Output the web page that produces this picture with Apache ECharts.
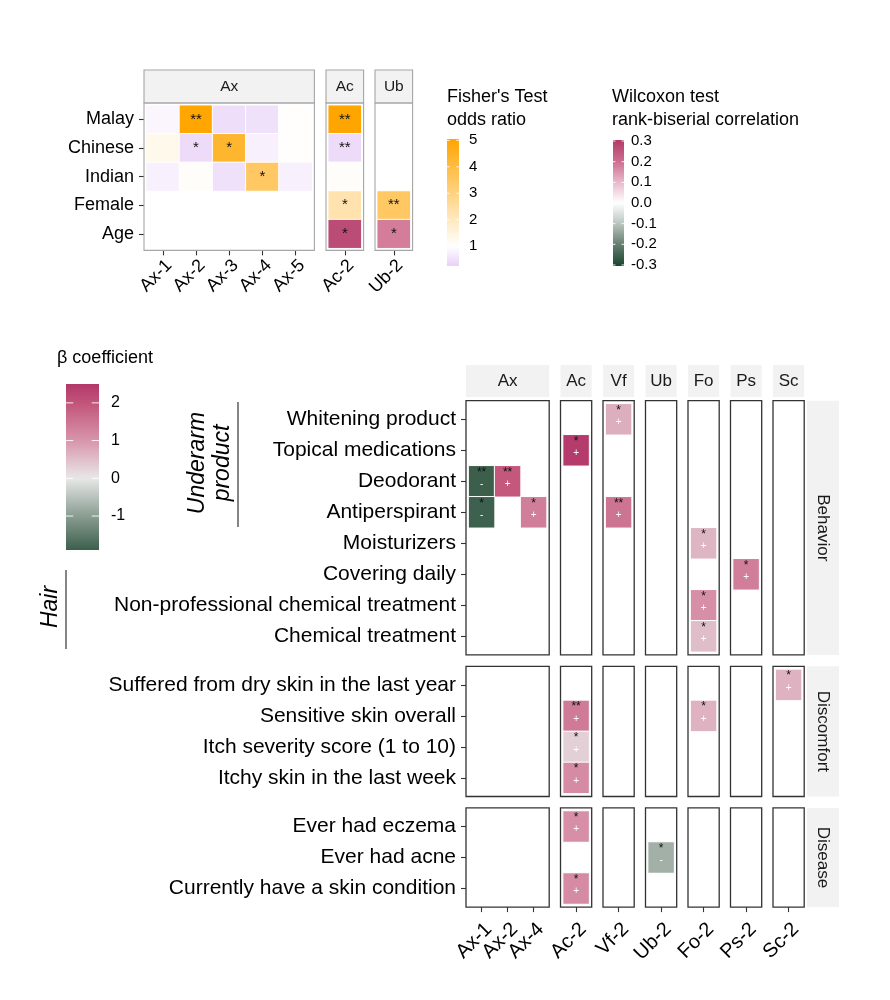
<!DOCTYPE html>
<html><head><meta charset="utf-8">
<script src="https://cdn.jsdelivr.net/npm/echarts@6/dist/echarts.min.js"></script>
<style>html,body{margin:0;padding:0;background:#fff}#c{width:890px;height:1000px}</style>
</head><body><div id="c"></div><script>
// ================= DATA =================
// --- top chart ---
const topRows = ['Malay', 'Chinese', 'Indian', 'Female', 'Age'];
const topFacets = ['Ax', 'Ac', 'Ub'];
const topAxCols = ['Ax-1', 'Ax-2', 'Ax-3', 'Ax-4', 'Ax-5'];
const topAcCols = ['Ac-2'];
const topUbCols = ['Ub-2'];
// Fisher's test odds ratio per column (rows: Malay, Chinese, Indian, Female)
const orAx1 = [0.85, 1.3, 0.75, null];
const orAx2 = [5.0, 0.4, 1.1, null];
const orAx3 = [0.45, 4.3, 0.5, null];
const orAx4 = [0.5, 0.75, 3.5, null];
const orAx5 = [1.05, 1.05, 0.75, null];
const orAc2 = [5.05, 0.4, 1.1, 2.3];
const orUb2 = [null, null, null, 3.5];
const sigAx1 = ['', '', '', ''];
const sigAx2 = ['**', '*', '', ''];
const sigAx3 = ['', '*', '', ''];
const sigAx4 = ['', '', '*', ''];
const sigAx5 = ['', '', '', ''];
const sigAc2 = ['**', '**', '', '*'];
const sigUb2 = ['', '', '', '**'];
// Wilcoxon rank-biserial correlation (Age row)
const ageCols = ['Ac-2', 'Ub-2'];
const ageRbc = [0.27, 0.18];
const ageSig = ['*', '*'];

// --- bottom chart ---
const facetRows = ['Behavior', 'Discomfort', 'Disease'];
const facetCols = ['Ax', 'Ac', 'Vf', 'Ub', 'Fo', 'Ps', 'Sc'];
const behaviorRows = ['Whitening product', 'Topical medications', 'Deodorant', 'Antiperspirant',
  'Moisturizers', 'Covering daily', 'Non-professional chemical treatment', 'Chemical treatment'];
const discomfortRows = ['Suffered from dry skin in the last year', 'Sensitive skin overall',
  'Itch severity score (1 to 10)', 'Itchy skin in the last week'];
const diseaseRows = ['Ever had eczema', 'Ever had acne', 'Currently have a skin condition'];
const axCols = ['Ax-1', 'Ax-2', 'Ax-4'];
const acCols = ['Ac-2'];
const vfCols = ['Vf-2'];
const ubCols = ['Ub-2'];
const foCols = ['Fo-2'];
const psCols = ['Ps-2'];
const scCols = ['Sc-2'];
// beta coefficients (non-empty cells)
const betaRow = ['Whitening product', 'Topical medications', 'Deodorant', 'Deodorant',
  'Antiperspirant', 'Antiperspirant', 'Antiperspirant', 'Moisturizers', 'Covering daily',
  'Non-professional chemical treatment', 'Chemical treatment',
  'Suffered from dry skin in the last year', 'Sensitive skin overall', 'Sensitive skin overall',
  'Itch severity score (1 to 10)', 'Itchy skin in the last week',
  'Ever had eczema', 'Ever had acne', 'Currently have a skin condition'];
const betaCol = ['Vf-2', 'Ac-2', 'Ax-1', 'Ax-2', 'Ax-1', 'Ax-4', 'Vf-2', 'Fo-2', 'Ps-2',
  'Fo-2', 'Fo-2', 'Sc-2', 'Ac-2', 'Fo-2', 'Ac-2', 'Ac-2', 'Ac-2', 'Ub-2', 'Ac-2'];
const betaVal = [0.7, 2.45, -1.9, 1.95, -1.88, 1.35, 1.5, 0.6, 1.35,
  1.1, 0.5, 0.65, 1.4, 0.65, 0.3, 1.15, 1.1, -0.75, 1.15];
const betaSig = ['*', '*', '**', '**', '*', '*', '**', '*', '*',
  '*', '*', '*', '**', '*', '*', '*', '*', '*', '*'];

// legend ticks
const fisherTicks = [1, 2, 3, 4, 5];
const wilcoxTicks = [-0.3, -0.2, -0.1, 0, 0.1, 0.2, 0.3];
const betaTicks = [-1, 0, 1, 2];

// ================= STYLE / LAYOUT =================
const FONT = '"Liberation Sans", Arial, Helvetica, sans-serif';
const fisherStops = [[0.25, '#E8D2F8'], [1, '#FFFFFF'], [5.05, '#FFA500']];
const wilcoxStops = [[-0.305, '#1B4530'], [-0.2, '#667F71'], [-0.1, '#BAC5BF'], [0, '#FFFFFF'],
  [0.1, '#E8B9CA'], [0.2, '#CE6E8F'], [0.305, '#B23B68']];
const betaStops = [[-1.9, '#3C5F4C'], [-1, '#8A9D92'], [0, '#E8E8E8'], [1, '#D895AB'],
  [2, '#C25479'], [2.5, '#B2386A']];

function hex2rgb(h) { h = h.replace('#', ''); return [0, 2, 4].map(i => parseInt(h.substr(i, 2), 16)); }
function makeScale(stops) {
  const s = stops.map(d => [d[0], hex2rgb(d[1])]);
  return v => {
    if (v <= s[0][0]) v = s[0][0];
    if (v >= s[s.length - 1][0]) v = s[s.length - 1][0];
    for (let i = 0; i < s.length - 1; i++) {
      if (v >= s[i][0] && v <= s[i + 1][0]) {
        const t = (v - s[i][0]) / (s[i + 1][0] - s[i][0]);
        const c = s[i][1].map((a, k) => Math.round(a + (s[i + 1][1][k] - a) * t));
        return 'rgb(' + c.join(',') + ')';
      }
    }
  };
}
function sample(fn, min, max, n) { const a = []; for (let i = 0; i < n; i++) a.push(fn(min + (max - min) * i / (n - 1))); return a; }
const fisherColor = makeScale(fisherStops), wilcoxColor = makeScale(wilcoxStops), betaColor = makeScale(betaStops);

const grids = [], xAxes = [], yAxes = [], series = [], graphics = [];
const oddsIdx = [], ageIdx = [], betaIdx = [];

function addPanel(o) {
  const gi = grids.length;
  const w = o.cols.length * o.ux, h = o.rows.length * o.uy;
  grids.push({ left: o.left + o.ex, top: o.top + o.ey, width: w, height: h, containLabel: false });
  xAxes.push({
    type: 'category', gridIndex: gi, data: o.cols, offset: o.ey, position: 'bottom',
    axisLine: { show: false }, splitLine: { show: false },
    axisTick: { show: o.showX, alignWithLabel: true, length: 5, interval: 0, lineStyle: { color: '#333', width: 1.1 } },
    axisLabel: { show: o.showX, rotate: 45, interval: 0, fontSize: o.xFont, color: '#000', margin: o.xMargin,
      align: 'right', verticalAlign: 'top', fontFamily: FONT }
  });
  yAxes.push({
    type: 'category', gridIndex: gi, data: o.rows, inverse: true, offset: o.ex, position: 'left',
    axisLine: { show: false }, splitLine: { show: false },
    axisTick: { show: o.showY, alignWithLabel: true, length: 5, interval: 0, lineStyle: { color: '#333', width: 1.1 } },
    axisLabel: { show: o.showY, interval: 0, fontSize: o.yFont, color: '#000', margin: o.yMargin, fontFamily: FONT }
  });
  graphics.push({ type: 'rect', silent: true, z: 100,
    shape: { x: o.left, y: o.top, width: w + 2 * o.ex, height: h + 2 * o.ey },
    style: { fill: 'none', stroke: o.border, lineWidth: o.lw } });
  return { gi, pw: w + 2 * o.ex, ph: h + 2 * o.ey };
}

function makeHeat(gi, data, sigs, kind) {
  const s = { type: 'heatmap', xAxisIndex: gi, yAxisIndex: gi, data: data, silent: true,
    itemStyle: { borderColor: '#fff', borderWidth: 1 }, emphasis: { disabled: true } };
  if (kind === 'top') {
    s.label = { show: true, formatter: p => sigs[p.dataIndex], color: '#111', fontSize: 15, fontFamily: FONT };
  } else {
    s.label = { show: true, offset: [0, -3],
      formatter: p => '{s|' + sigs[p.dataIndex] + '}\n{p|' + (p.value[2] > 0 ? '+' : '-') + '}',
      rich: { s: { fontSize: 12, color: '#111', lineHeight: 12, fontFamily: FONT },
              p: { fontSize: 10, color: '#fff', lineHeight: 12, fontFamily: FONT } } };
  }
  return s;
}

function text(x, y, str, size, opt) {
  opt = opt || {};
  graphics.push({ type: 'text', x: x, y: y, rotation: opt.rot || 0, silent: true, z: 110,
    style: { text: str, fontSize: size, fontFamily: FONT, fontStyle: opt.italic ? 'italic' : 'normal',
      fill: opt.color || '#000', align: opt.align || 'left', verticalAlign: 'middle',
      textAlign: opt.align || 'left', textVerticalAlign: 'middle', lineHeight: opt.lh || size * 1.2 } });
}
function line(x1, y1, x2, y2, color, w) {
  graphics.push({ type: 'line', silent: true, z: 105, shape: { x1, y1, x2, y2 }, style: { stroke: color, lineWidth: w } });
}

// ---------- top chart ----------
const orByCol = [orAx1, orAx2, orAx3, orAx4, orAx5, orAc2, orUb2];
const sigByCol = [sigAx1, sigAx2, sigAx3, sigAx4, sigAx5, sigAc2, sigUb2];
const orColNames = topAxCols.concat(topAcCols, topUbCols);
const topPanelCols = [topAxCols, topAcCols, topUbCols];
const topLefts = [144, 326, 375];
const T = { top: 103, uy: 28.6, ey: 2.2, ux: 33.2, ex: 2.2 };
topPanelCols.forEach((cols, p) => {
  const r = addPanel({ left: topLefts[p], top: T.top, cols: cols, rows: topRows, ux: T.ux, uy: T.uy, ex: T.ex, ey: T.ey,
    showX: true, showY: p === 0, xFont: 18, yFont: 18, xMargin: 6, yMargin: 10, border: '#A6A6A6', lw: 1.1 });
  const oD = [], oS = [], aD = [], aS = [];
  cols.forEach((c, ci) => {
    const k = orColNames.indexOf(c);
    orByCol[k].forEach((v, ri) => { if (v != null) { oD.push([ci, ri, v]); oS.push(sigByCol[k][ri]); } });
    const a = ageCols.indexOf(c);
    if (a >= 0) { aD.push([ci, topRows.indexOf('Age'), ageRbc[a]]); aS.push(ageSig[a]); }
  });
  if (oD.length) { oddsIdx.push(series.length); series.push(makeHeat(r.gi, oD, oS, 'top')); }
  if (aD.length) { ageIdx.push(series.length); series.push(makeHeat(r.gi, aD, aS, 'top')); }
  graphics.push({ type: 'rect', silent: true, z: 90, shape: { x: topLefts[p], y: 70, width: r.pw, height: T.top - 70 },
    style: { fill: '#F2F2F2', stroke: '#A6A6A6', lineWidth: 1.1 } });
  text(topLefts[p] + r.pw / 2, 86.5, topFacets[p], 15.5, { align: 'center', color: '#1a1a1a' });
});

// ---------- bottom chart ----------
const rowsByFacet = [behaviorRows, discomfortRows, diseaseRows];
const colsByFacet = [axCols, acCols, vfCols, ubCols, foCols, psCols, scCols];
const B = { ux: 26, ex: 2.6, uy: 31, ey: 3.1, left0: 466, gapX: 11.3, top0: 400.7, gapY: 11.4, stripX: 807, stripW: 32 };
let yTop = B.top0;
rowsByFacet.forEach((rows, fr) => {
  let xLeft = B.left0, ph = 0;
  colsByFacet.forEach((cols, fc) => {
    const r = addPanel({ left: xLeft, top: yTop, cols: cols, rows: rows, ux: B.ux, uy: B.uy, ex: B.ex, ey: B.ey,
      showX: fr === rowsByFacet.length - 1, showY: fc === 0, xFont: 20, yFont: 21, xMargin: 12, yMargin: 10,
      border: '#333', lw: 1.3 });
    ph = r.ph;
    const d = [], sg = [];
    betaRow.forEach((rn, i) => {
      const ri = rows.indexOf(rn), ci = cols.indexOf(betaCol[i]);
      if (ri >= 0 && ci >= 0) { d.push([ci, ri, betaVal[i]]); sg.push(betaSig[i]); }
    });
    if (d.length) { betaIdx.push(series.length); series.push(makeHeat(r.gi, d, sg, 'bottom')); }
    if (fr === 0) {
      graphics.push({ type: 'rect', silent: true, z: 90, shape: { x: xLeft, y: 365, width: r.pw, height: 32 }, style: { fill: '#F2F2F2' } });
      text(xLeft + r.pw / 2, 381, facetCols[fc], 17, { align: 'center', color: '#1a1a1a' });
    }
    xLeft += r.pw + B.gapX;
  });
  graphics.push({ type: 'rect', silent: true, z: 90, shape: { x: B.stripX, y: yTop, width: B.stripW, height: ph }, style: { fill: '#F2F2F2' } });
  text(B.stripX + B.stripW / 2, yTop + ph / 2, facetRows[fr], 17, { align: 'center', rot: -Math.PI / 2, color: '#1a1a1a' });
  yTop += ph + B.gapY;
});

// group labels
text(210, 463, 'Underarm\nproduct', 23, { align: 'center', rot: Math.PI / 2, italic: true, lh: 25 });
line(238, 402, 238, 527, '#333', 1.2);
text(51, 607, 'Hair', 23, { align: 'center', rot: Math.PI / 2, italic: true });
line(66, 570, 66, 649, '#333', 1.2);

// ---------- colour bars ----------
function colorbar(x, y, w, h, vmin, vmax, fn, ticks, fmt, labelX, fs) {
  const stops = [];
  for (let i = 0; i <= 40; i++) stops.push({ offset: i / 40, color: fn(vmax - (vmax - vmin) * i / 40) });
  graphics.push({ type: 'rect', silent: true, z: 95, shape: { x, y, width: w, height: h },
    style: { fill: { type: 'linear', x: 0, y: 0, x2: 0, y2: 1, colorStops: stops, global: false } } });
  const tl = w * 0.22;
  ticks.forEach(t => {
    const ty = y + (vmax - t) / (vmax - vmin) * h;
    line(x, ty, x + tl, ty, 'rgba(255,255,255,0.9)', 1);
    line(x + w - tl, ty, x + w, ty, 'rgba(255,255,255,0.9)', 1);
    text(labelX, ty, fmt(t), fs);
  });
}
text(447, 97, "Fisher's Test", 18);
text(447, 120, 'odds ratio', 18);
colorbar(447, 139, 12, 127, 0.25, 5.05, fisherColor, fisherTicks, t => String(t), 469, 15);
text(612, 97, 'Wilcoxon test', 18);
text(612, 120, 'rank-biserial correlation', 18);
colorbar(613, 140, 11, 126, -0.305, 0.305, wilcoxColor, wilcoxTicks, t => t.toFixed(1), 631, 15);
text(57, 358, 'β coefficient', 18);
colorbar(66, 384, 33, 166, -1.9, 2.5, betaColor, betaTicks, t => String(t), 111, 16);

const option = {
  animation: false,
  backgroundColor: '#fff',
  textStyle: { fontFamily: FONT },
  grid: grids, xAxis: xAxes, yAxis: yAxes, series: series,
  visualMap: [
    { type: 'continuous', show: false, dimension: 2, min: 0.25, max: 5.05, seriesIndex: oddsIdx,
      inRange: { color: sample(fisherColor, 0.25, 5.05, 61) } },
    { type: 'continuous', show: false, dimension: 2, min: -0.305, max: 0.305, seriesIndex: ageIdx,
      inRange: { color: sample(wilcoxColor, -0.305, 0.305, 61) } },
    { type: 'continuous', show: false, dimension: 2, min: -1.9, max: 2.5, seriesIndex: betaIdx,
      inRange: { color: sample(betaColor, -1.9, 2.5, 89) } }
  ],
  graphic: { elements: graphics }
};
const chart = echarts.init(document.getElementById('c'));
chart.setOption(option);
</script></body></html>
